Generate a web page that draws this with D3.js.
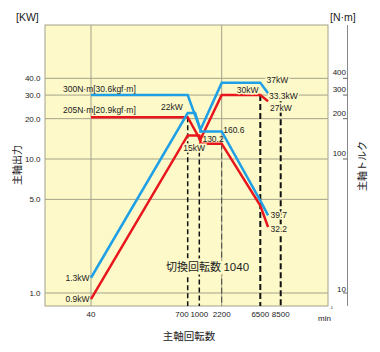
<!DOCTYPE html>
<html><head><meta charset="utf-8">
<script src="https://cdn.jsdelivr.net/npm/d3@7/dist/d3.min.js"></script>
<style>body{margin:0;background:#fff}svg{display:block}</style>
</head><body>
<svg id="c" width="380" height="352"></svg>
<script>
// ---- data ----
const speedTicks = [40, 700, 1000, 2200, 6500, 8500];
const kwTicks = [1, 5, 10, 20, 30, 40];
const kwTickLabels = ["1.0", "5.0", "10.0", "20.0", "30.0", "40.0"];
const nmTicks = [10, 100, 200, 300, 400];
// [speed (min-1), kW]
const bluePower = [[40, 1.3], [700, 22], [880, 22], [1040, 16.5], [2200, 37], [6500, 37], [7200, 31]];
const redPower  = [[40, 0.9], [700, 15], [1000, 15], [1040, 14], [2200, 30], [6500, 30], [7200, 27]];
// [speed (min-1), N·m]
const blueTorque = [[40, 300], [700, 300], [1040, 165], [1040, 160.6], [2200, 160.6], [6500, 49], [7200, 38]];
const redTorque  = [[40, 205], [700, 205], [1040, 138], [1040, 130.2], [2200, 130.2], [6500, 45], [7200, 31]];
const switchSpeed = 1040;

// ---- layout ----
const L = 45, R = 328, T = 25, B = 306;
const svg = d3.select("#c");
const FONT = "'Liberation Sans', Arial, 'Noto Sans CJK JP', sans-serif";
const JFONT = "'Noto Sans CJK JP', 'Liberation Sans', sans-serif";
const BG = "#fdf9c8", GRID = "#a3a28a";
const BLUE = "#1fa0e6", RED = "#e8161d";

const x = d3.scaleLog().domain(speedTicks).range([91, 187.7, 199.3, 221.7, 260.3, 280.7]);
const y = d3.scaleLog().domain([0.8, 100]).range([B, T]);
const yT = d3.scaleLog().domain([8, 1000]).range([B, T]);

svg.append("rect").attr("x", L).attr("y", T).attr("width", R - L).attr("height", B - T)
  .attr("fill", BG);

// horizontal grid
svg.append("g").selectAll("line").data(kwTicks).join("line")
  .attr("x1", L).attr("x2", R).attr("y1", d => y(d)).attr("y2", d => y(d))
  .attr("stroke", GRID).attr("stroke-width", 1);
// vertical grid at 40 and 2200
svg.append("g").selectAll("line").data([40, 2200]).join("line")
  .attr("x1", d => x(d)).attr("x2", d => x(d)).attr("y1", T).attr("y2", B)
  .attr("stroke", GRID).attr("stroke-width", 1);

svg.append("rect").attr("x", L).attr("y", T).attr("width", R - L).attr("height", B - T)
  .attr("fill", "none").attr("stroke", GRID).attr("stroke-width", 1);

// drop lines
const drops = [
  { s: 700, top: yT(205), w: 1.5, dash: "5,3", c: "#111" },
  { s: 1000, top: y(15), w: 1.5, dash: "5,3", c: "#111" },
  { s: 2200, top: yT(130.2), w: 1, dash: "6,3", c: "#444" },
  { s: 6500, top: y(30), w: 2, dash: "6,3", c: "#111" },
  { s: 8500, top: y(27), w: 2, dash: "6,3", c: "#111" }
];
svg.append("g").selectAll("line").data(drops).join("line")
  .attr("x1", d => x(d.s)).attr("x2", d => x(d.s)).attr("y1", d => d.top).attr("y2", B)
  .attr("stroke", d => d.c).attr("stroke-width", d => d.w).attr("stroke-dasharray", d => d.dash);

// curves
const linePow = d3.line().x(d => x(d[0])).y(d => y(d[1]));
const lineTrq = d3.line().x(d => x(d[0])).y(d => yT(d[1]));
const curves = [
  { d: redTorque, f: lineTrq, c: RED },
  { d: redPower, f: linePow, c: RED },
  { d: blueTorque, f: lineTrq, c: BLUE },
  { d: bluePower, f: linePow, c: BLUE }
];
svg.append("g").selectAll("path").data(curves).join("path")
  .attr("d", d => d.f(d.d)).attr("fill", "none").attr("stroke", d => d.c)
  .attr("stroke-width", 2.5).attr("stroke-linejoin", "miter");

// left axis labels
svg.append("g").selectAll("text").data(kwTicks).join("text")
  .attr("x", 40.5).attr("y", d => y(d) + 3).attr("text-anchor", "end")
  .attr("font-family", FONT).attr("font-size", 8).attr("fill", "#222")
  .text((d, i) => kwTickLabels[i]);

// right torque axis
const RA = 347.5;
svg.append("line").attr("x1", RA).attr("x2", RA).attr("y1", T).attr("y2", B)
  .attr("stroke", "#888").attr("stroke-width", 1);
svg.append("g").selectAll("line").data(nmTicks).join("line")
  .attr("x1", RA - 4.5).attr("x2", RA).attr("y1", d => yT(d)).attr("y2", d => yT(d))
  .attr("stroke", "#666").attr("stroke-width", 1);
svg.append("g").selectAll("text").data(nmTicks).join("text")
  .attr("x", RA - 1.5).attr("y", d => d === 10 ? yT(d) - 1 : yT(d) - 3).attr("text-anchor", "end")
  .attr("font-family", FONT).attr("font-size", 8).attr("fill", "#222")
  .text(d => d);

// x axis labels
svg.append("g").selectAll("text").data(speedTicks).join("text")
  .attr("x", d => d === 700 ? x(d) + 1 : x(d)).attr("y", 317)
  .attr("text-anchor", d => d === 700 ? "end" : "middle")
  .attr("font-family", FONT).attr("font-size", 8).attr("fill", "#222")
  .text(d => d);

// titles
const txt = (t, xx, yy, opt = {}) => {
  const e = svg.append("text").attr("x", xx).attr("y", yy)
    .attr("font-family", opt.font || FONT).attr("font-size", opt.size || 8)
    .attr("text-anchor", opt.anchor || "start").attr("fill", opt.fill || "#222").text(t);
  if (opt.rot) e.attr("transform", `rotate(${opt.rot},${xx},${yy})`);
  if (opt.halo) e.attr("stroke", BG).attr("stroke-width", 3).attr("paint-order", "stroke");
  return e;
};
txt("[KW]", 16, 20.5, { size: 10.5 });
txt("[N·m]", 330, 21, { size: 10.5 });
txt("主軸出力", 21, 165, { font: JFONT, size: 10, anchor: "middle", rot: -90 });
txt("主軸トルク", 366, 166, { font: JFONT, size: 10, anchor: "middle", rot: -90 });
txt("主軸回転数", 189, 339.5, { font: JFONT, size: 10.5, anchor: "middle" });
txt("min", 318, 321, { size: 8 });
svg.append("text").attr("x", 329.5).attr("y", 309).attr("font-family", FONT)
  .attr("font-size", 4).attr("fill", "#222").text("-1");

// annotations
txt("300N·m[30.6kgf·m]", 63, yT(300) - 3.5, { size: 8.5 });
txt("205N·m[20.9kgf·m]", 63, yT(205) - 4, { size: 8.5 });
txt("22kW", x(700) - 5, y(22) - 3, { size: 8.5, anchor: "end" });
txt("15kW", x(700) - 4.5, y(15) + 15.5, { size: 8.5, halo: true });
txt("130.2", x(1040) + 2, yT(130.2) - 1.5, { size: 8.5 });
txt("160.6", x(2200) + 1.5, yT(160.6) + 1.5, { size: 8.5 });
txt("37kW", 266.5, y(37) + 0.5, { size: 8.5, halo: true });
txt("30kW", 258.5, y(30) - 2, { size: 8.5, anchor: "end", halo: true });
txt("33.3kW", 269, y(30) + 3.5, { size: 8.5, halo: true });
txt("27kW", 270, y(27) + 10, { size: 8.5, halo: true });
txt("39.7", 270.5, yT(38) + 2.5, { size: 8.5, halo: true });
txt("32.2", 270.5, yT(31) + 5, { size: 8.5, halo: true });
txt("1.3kW", x(40) - 1.5, y(1.3) + 3, { size: 8.5, anchor: "end" });
txt("0.9kW", x(40) - 1.5, y(0.9) + 3, { size: 8.5, anchor: "end" });
const sw = svg.append("text").attr("x", 166).attr("y", 270.5)
  .attr("font-family", JFONT).attr("font-size", 11).attr("fill", "#222")
  .attr("stroke", BG).attr("stroke-width", 5).attr("paint-order", "stroke");
sw.append("tspan").text("切換回転数 ");
sw.append("tspan").attr("font-family", FONT).attr("font-size", 11.5).text(switchSpeed);
</script>
</body></html>
